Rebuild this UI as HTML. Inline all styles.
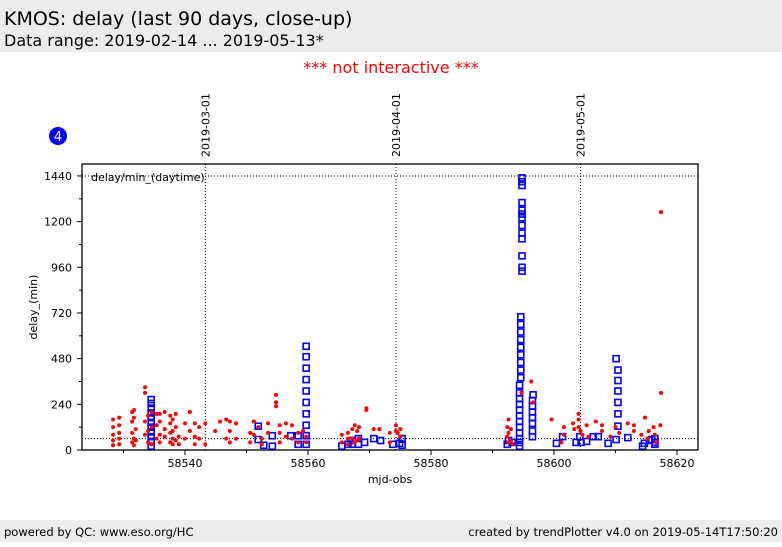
<!DOCTYPE html>
<html><head><meta charset="utf-8"><style>
body{margin:0;width:782px;height:542px;background:#fff;overflow:hidden;font-family:"Liberation Sans","DejaVu Sans",sans-serif}
</style></head><body>
<svg id="c" width="782" height="542" xmlns="http://www.w3.org/2000/svg" font-family="'DejaVu Sans','Liberation Sans',sans-serif">
<rect x="0" y="0" width="782" height="52" fill="#ececec"/>
<text x="4" y="25" font-size="19" fill="#000">KMOS: delay (last 90 days, close-up)</text>
<text x="4" y="46" font-size="16" fill="#000">Data range: 2019-02-14 ... 2019-05-13*</text>
<text x="391" y="73" font-size="16" fill="#ff0000" text-anchor="middle">*** not interactive ***</text>
<circle cx="58" cy="136" r="9" fill="#0000ff"/>
<text x="58" y="141" font-size="13" fill="#fff" text-anchor="middle">4</text>
<rect x="0" y="520" width="782" height="22" fill="#ececec"/>
<text x="4" y="536" font-size="11.5" fill="#000">powered by QC: www.eso.org/HC</text>
<text x="778" y="536" font-size="11.5" fill="#000" text-anchor="end">created by trendPlotter v4.0 on 2019-05-14T17:50:20</text>
<g id="plot"></g>
</svg>
<script>
const xTicks=[58530,58540,58550,58560,58570,58580,58590,58600,58610,58620];
const xLabels=[58540,58560,58580,58600,58620];
const yTicks=[0,120,240,360,480,600,720,840,960,1080,1200,1320,1440];
const yLabels=[0,240,480,720,960,1200,1440];
const dateMjd=[58543.3,58574.3,58604.3];
const dateLabels=["2019-03-01","2019-04-01","2019-05-01"];
const refLines=[1440,60];
const redX=[58528.3,58528.3,58528.3,58528.3,58528.3,58529.3,58529.3,58529.3,58529.3,58529.3,58531.4,58531.4,58531.4,58531.4,58531.7,58531.7,58531.7,58531.7,58532,58532,58533.5,58533.5,58533.5,58533.5,58534,58534,58534,58534.6,58534.6,58534.6,58535.4,58535.4,58535.4,58535.9,58535.9,58535.9,58535.9,58536.7,58536.7,58536.7,58537.6,58537.6,58537.6,58537.6,58538,58538,58538,58538,58538.5,58538.5,58538.5,58539,58539,58540,58540,58540.8,58540.8,58541.6,58541.6,58541.6,58542.3,58542.3,58543.3,58543.3,58544.9,58545.7,58546.7,58546.7,58547.3,58547.3,58547.3,58548.3,58548.3,58550.6,58550.6,58551.2,58551.2,58551.9,58552.5,58552.5,58553.5,58553.5,58554.8,58554.8,58554.8,58555.4,58555.4,58555.4,58556.4,58556.4,58557.4,58557.4,58558.4,58558.4,58559.2,58559.7,58559.7,
58565.5,58565.5,58566.5,58566.5,58566.5,58567.2,58567.2,58567.6,58567.6,58568,58568,58568.3,58568.3,58569.5,58569.5,58570.7,58571.6,58573.3,58573.3,58574.3,58574.3,58574.6,58575,58575,
58592.4,58592.4,58592.6,58592.6,58592.6,58593,58593,58593.4,58594.7,58596.3,58596.6,58599.6,58601.2,58601.6,58601.6,58603.1,58603.3,58604,58604,58604,58604.3,58604.6,58605.3,58605.6,58606.8,58607.8,58607.8,58609.2,58610,58610.6,58612,58613,58613,58614.2,58614.8,58615.2,58615.4,58616.2,58616.4,58616.6,58617.3,58617.4,58617.4];
const redY=[160,120,80,50,25,170,130,90,60,30,200,150,90,40,210,170,60,25,110,50,330,300,150,80,180,100,40,200,120,30,190,130,60,190,150,80,40,200,110,70,180,140,90,40,160,100,60,30,190,120,50,70,30,140,60,200,100,140,70,30,120,60,30,140,100,150,160,60,150,100,40,140,60,90,40,150,80,120,60,30,140,90,290,250,230,130,90,40,140,70,130,60,90,40,100,70,40,
80,40,90,60,30,110,60,130,40,100,50,120,60,220,210,110,110,90,40,130,100,90,110,70,
120,70,160,90,40,110,50,30,300,360,250,160,40,120,80,140,110,190,160,120,100,80,130,70,150,130,100,70,120,90,140,130,100,80,170,60,100,120,80,40,130,1250,300];
const blueX=[58534.5,58534.5,58534.5,58534.5,58534.5,58534.5,58534.5,58534.5,58534.5,58534.5,58534.5,58551.9,58551.9,58552.8,58554.2,58554.2,58557.2,58558.4,58558.4,58559.7,58559.7,58559.7,58559.7,58559.7,58559.7,58559.7,58559.7,58559.7,58559.7,
58565.5,58566.5,58567.2,58567.2,58568.2,58568.2,58569.2,58570.7,58571.8,58573.8,58574.9,58575.3,58575.3,
58592.4,58592.6,58593.2,58594.4,58594.4,58594.4,58594.4,58594.4,58594.4,58594.4,58594.4,58594.4,58594.4,58594.4,58594.4,58594.6,58594.6,58594.6,58594.6,58594.6,58594.6,58594.6,58594.6,58594.6,58594.8,58594.8,58594.8,58594.8,58594.8,58594.8,58594.8,58594.8,58594.8,58594.8,58594.8,58594.8,58594.8,
58596.5,58596.5,58596.5,58596.5,58596.5,58596.5,58596.5,58596.6,
58600.4,58601.4,58603.6,58604.2,58604.4,58605.3,58606.4,58607.2,58608.8,58610.1,58610.1,58610.4,58610.4,58610.4,58610.4,58610.4,58610.4,58612,58614.4,58614.7,58615.5,58615.9,58616.4,58616.4,58616.4];
const blueY=[20,45,70,95,120,145,170,195,220,245,265,125,55,25,75,20,75,75,30,545,490,430,370,310,250,190,130,75,30,
20,30,50,30,60,30,40,60,50,30,35,60,25,
30,50,40,20,40,60,90,120,150,180,210,240,270,300,340,380,420,460,500,540,580,620,660,700,1430,1390,1300,1260,1220,1180,1140,1020,940,1410,1240,1110,960,
70,100,140,170,200,230,260,290,
35,70,40,70,40,45,70,70,35,55,480,420,365,310,250,190,125,65,20,35,50,55,30,40,60];
const NS="http://www.w3.org/2000/svg";
const L=82,R=698,T=164,B=450;
function xs(m){return 185+(m-58540)*6.15;}
function ys(v){return 450-v*0.1903;}
const g=document.getElementById('plot');
function el(t,a,p){const e=document.createElementNS(NS,t);for(const k in a)e.setAttribute(k,a[k]);(p||g).appendChild(e);return e;}
dateMjd.forEach((m,i)=>{
  const l=el('line',{x1:xs(m),x2:xs(m),y1:T,y2:B,stroke:'#000','stroke-width':1,'stroke-dasharray':'1,2'});
  
  
  const t=el('text',{x:0,y:0,'font-size':11,transform:`translate(${xs(m)+4},157) rotate(-90)`});
  t.textContent=dateLabels[i];
  
  
});
refLines.forEach(v=>{
  const l=el('line',{x1:L,x2:R,y1:ys(v),y2:ys(v),stroke:'#000','stroke-width':1,'stroke-dasharray':'1,2'});
  
  
});
const n=Math.min(blueX.length,blueY.length);
for(let i=0;i<n;i++){
  const s=el('rect',{x:xs(blueX[i])-3,y:ys(blueY[i])-3,width:6,height:6,fill:'none',stroke:'#0000ff','stroke-width':1.6});
  
  
}
redX.forEach((m,i)=>{
  const c=el('circle',{cx:xs(m),cy:ys(redY[i]),r:2,fill:'#ff0000'});
  
  
});
const fr=el('rect',{x:L,y:T,width:R-L,height:B-T,fill:'none',stroke:'#000','stroke-width':1.3});


xTicks.forEach(m=>{
  const tk=el('line',{x1:xs(m),x2:xs(m),y1:B,y2:B+(xLabels.includes(m)?5:3),stroke:'#000'});
  
  
});
xLabels.forEach(m=>{
  const t=el('text',{x:xs(m),y:467,'font-size':11,'text-anchor':'middle'});
  t.textContent=m;
  
  
});
yTicks.forEach(v=>{
  const tk=el('line',{x1:L-(yLabels.includes(v)?5:3),x2:L,y1:ys(v),y2:ys(v),stroke:'#000'});
  
  
});
yLabels.forEach(v=>{
  const t=el('text',{x:72,y:ys(v)+4,'font-size':11,'text-anchor':'end'});
  t.textContent=v;
  
  
});
const xt=el('text',{x:390,y:483,'font-size':11,'text-anchor':'middle'});xt.textContent='mjd-obs';


const yt=el('text',{x:0,y:0,'font-size':11,'text-anchor':'middle',transform:'translate(37,307) rotate(-90)'});yt.textContent='delay_(min)';


const lg=el('text',{x:91,y:181,'font-size':11});lg.textContent='delay/min_(daytime)';


</script>
</body></html>
